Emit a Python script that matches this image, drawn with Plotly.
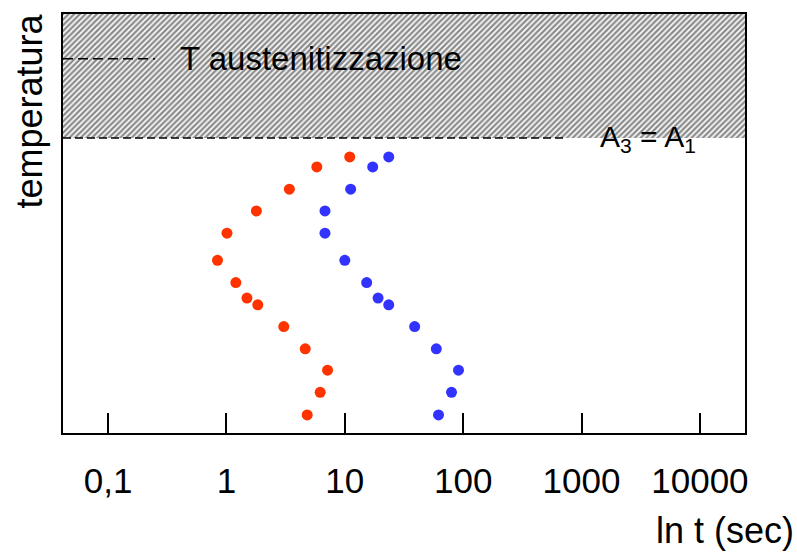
import plotly.graph_objects as go

# Temperature levels (arbitrary units, 0 = bottom of the diagram, 100 = top)
temperature = [65.9, 63.5, 58.2, 53.0, 47.7, 41.2, 35.9, 32.2, 30.6, 25.4, 20.1, 15.0, 9.7, 4.3]
# Time (s) at transformation start and finish for each level
t_start = [11.0, 5.8, 3.4, 1.79, 1.01, 0.84, 1.20, 1.49, 1.84, 3.05, 4.63, 7.15, 6.19, 4.81]
t_end = [23.5, 17.2, 11.2, 6.8, 6.8, 10.0, 15.3, 19.1, 23.5, 38.9, 59.3, 91.3, 79.7, 61.9]

tick_vals = [0.1, 1, 10, 100, 1000, 10000]
tick_text = ["0,1", "1", "10", "100", "1000", "10000"]

T_A3 = 70.4          # A3 = A1 critical temperature
T_aust = 89.3        # austenitising temperature

FONT = "Liberation Sans, Arial, sans-serif"

fig = go.Figure()

# Hatched austenite field above A3 (drawn on a hidden linear overlay axis)
fig.add_trace(go.Scatter(
    x=[0, 1, 1, 0, 0], y=[T_A3, T_A3, 100, 100, T_A3],
    xaxis="x2", mode="lines", line=dict(width=0),
    fill="toself", fillcolor="white",
    fillpattern=dict(shape="/", size=4, solidity=0.6,
                     fgcolor="#1a1a1a", bgcolor="white"),
    hoverinfo="skip", showlegend=False,
))

fig.add_trace(go.Scatter(
    x=t_start, y=temperature, mode="markers",
    marker=dict(color="#FF3300", size=11), showlegend=False,
))
fig.add_trace(go.Scatter(
    x=t_end, y=temperature, mode="markers",
    marker=dict(color="#3333FF", size=11), showlegend=False,
))

# Dashed reference lines
fig.add_shape(type="line", xref="x domain", yref="y",
              x0=0, x1=0.739, y0=T_A3, y1=T_A3,
              line=dict(color="black", width=1.7, dash="8px,4px"))
fig.add_shape(type="line", xref="x domain", yref="y",
              x0=0, x1=0.135, y0=T_aust, y1=T_aust,
              line=dict(color="black", width=1.5, dash="10px,5px"))

fig.add_annotation(text="T austenitizzazione", xref="x domain", yref="y",
                   x=0.1686, y=T_aust, xanchor="left", yanchor="middle",
                   showarrow=False, font=dict(family=FONT, size=33, color="black"))
fig.add_annotation(text="A<sub>3</sub> = A<sub>1</sub>", xref="x domain", yref="y",
                   x=0.785, y=T_A3, xanchor="left", yanchor="middle",
                   showarrow=False, font=dict(family=FONT, size=30, color="black"))

# Axis titles
fig.add_annotation(text="ln t (sec)", xref="paper", yref="paper",
                   x=1.075, y=-0.233, xanchor="right", yanchor="middle",
                   showarrow=False, font=dict(family=FONT, size=36, color="black"))
fig.add_annotation(text="temperatura", xref="paper", yref="paper",
                   x=-0.0484, y=0.7696, xanchor="center", yanchor="middle", textangle=-90,
                   showarrow=False, font=dict(family=FONT, size=36, color="black"))

fig.update_layout(
    width=797, height=559,
    margin=dict(l=63, r=52, t=12, b=126),
    paper_bgcolor="white", plot_bgcolor="white",
    xaxis=dict(type="log", range=[-1.381, 4.381],
               tickvals=tick_vals, ticktext=tick_text,
               ticks="inside", ticklen=20, tickwidth=2, tickcolor="black",
               ticklabelstandoff=16,
               tickfont=dict(family=FONT, size=35, color="black"),
               showgrid=False, zeroline=False,
               showline=True, linecolor="black", linewidth=2, mirror=True),
    xaxis2=dict(overlaying="x", range=[0, 1], visible=False, fixedrange=True),
    yaxis=dict(range=[0, 100], showticklabels=False, ticks="",
               showgrid=False, zeroline=False,
               showline=True, linecolor="black", linewidth=2, mirror=True),
)

fig.write_html("out.html")
